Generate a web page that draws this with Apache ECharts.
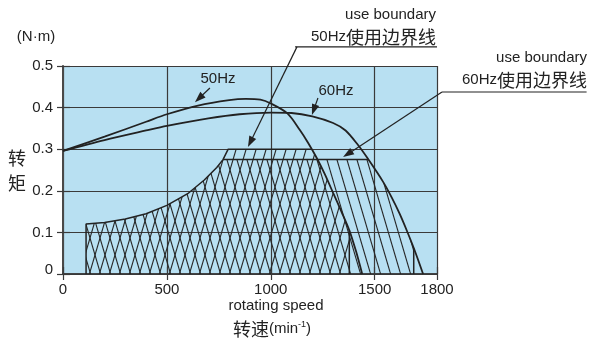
<!DOCTYPE html>
<html><head><meta charset="utf-8">
<script src="https://cdn.jsdelivr.net/npm/echarts@6/dist/echarts.min.js"></script>
<style>html,body{margin:0;padding:0;background:#fff}#c{width:589px;height:342px}</style>
</head><body><div id="c"></div>
<script>
// ---- data ----
const xMin = 0, xMax = 1800, xStep = 500;
const yMin = 0, yMax = 0.5, yStep = 0.1;

// 50Hz torque curve
const curve50X = [0, 200, 400, 500, 650, 800, 880, 950, 1000, 1080, 1140, 1180, 1220, 1260, 1300, 1340, 1378, 1410, 1440];
const curve50Y = [0.296, 0.33, 0.366, 0.384, 0.405, 0.418, 0.421, 0.419, 0.41, 0.386, 0.346, 0.315, 0.28, 0.24, 0.195, 0.15, 0.105, 0.055, 0];
// 60Hz torque curve
const curve60X = [0, 200, 400, 500, 700, 850, 1000, 1100, 1200, 1300, 1360, 1420, 1466, 1540, 1583, 1620, 1655, 1690, 1733];
const curve60Y = [0.296, 0.322, 0.345, 0.356, 0.374, 0.384, 0.388, 0.387, 0.379, 0.363, 0.345, 0.31, 0.278, 0.222, 0.183, 0.145, 0.104, 0.06, 0];

// 50Hz use boundary (hatched region outline)
const zone50X = [111, 111, 200, 300, 400, 500, 600, 680, 740, 770, 795, 1197, 1220, 1260, 1300, 1340, 1378, 1378];
const zone50Y = [0, 0.12, 0.124, 0.132, 0.145, 0.165, 0.193, 0.226, 0.256, 0.275, 0.3, 0.3, 0.28, 0.24, 0.195, 0.15, 0.105, 0];
// 60Hz use boundary
const zone60X = [111, 111, 200, 300, 400, 500, 600, 680, 740, 770, 1470, 1540, 1583, 1620, 1655, 1688, 1688];
const zone60Y = [0, 0.12, 0.124, 0.132, 0.145, 0.165, 0.193, 0.226, 0.256, 0.275, 0.275, 0.222, 0.183, 0.145, 0.104, 0.062, 0];

// annotation anchors in data units: [startX, startY, tipX, tipY]
const arrow50 = [707, 0.447, 635, 0.413];
const arrow60 = [1227, 0.423, 1198, 0.382];
const leader50 = [1126, 0.546, 890, 0.305];
const leader60 = [1824, 0.4375, 1348, 0.281];
const underline50 = [1117, 1800, 0.546];
const underline60 = [1824, 2520, 0.4375];

const FONT = "'Liberation Sans', Arial, 'Noto Sans CJK SC', sans-serif";
const CJK = "'Noto Sans CJK SC', sans-serif";
const INK = '#222';
const GRIDC = '#3a3a3a';

function pairs(xs, ys) { return xs.map((x, i) => [x, ys[i]]); }

function hatch(dir) {
  const w = 10, h = 34;
  const c = document.createElement('canvas');
  c.width = w; c.height = h;
  const g = c.getContext('2d');
  g.strokeStyle = '#262626';
  g.lineWidth = 1.1;
  for (let k = -1; k <= 1; k++) {
    g.beginPath();
    if (dir > 0) { g.moveTo(k * w, h); g.lineTo(k * w + w, 0); }
    else { g.moveTo(k * w, 0); g.lineTo(k * w + w, h); }
    g.stroke();
  }
  return c;
}

const chart = echarts.init(document.getElementById('c'), null, {renderer: 'canvas'});

const baseX = {min: xMin, max: xMax, interval: xStep, type: 'value'};
const baseY = {min: yMin, max: yMax, interval: yStep, type: 'value'};

chart.setOption({
  animation: false,
  backgroundColor: '#fff',
  grid: {left: 63, top: 66, width: 374, height: 208, show: true, backgroundColor: '#b8e0f2', borderWidth: 0},
  xAxis: [
    Object.assign({}, baseX, {
      position: 'bottom',
      axisLine: {lineStyle: {color: GRIDC, width: 1.5}},
      axisTick: {show: true, inside: false, length: 6, lineStyle: {color: GRIDC, width: 1.2}},
      axisLabel: {color: INK, fontSize: 15, fontFamily: FONT, margin: 8, formatter: v => String(v)},
      splitLine: {show: true, lineStyle: {color: GRIDC, width: 1.2}}
    }),
    Object.assign({}, baseX, {
      position: 'top',
      axisLine: {lineStyle: {color: GRIDC, width: 1.5}},
      axisTick: {show: true, inside: false, length: 7, lineStyle: {color: GRIDC, width: 1.2}},
      axisLabel: {show: false},
      splitLine: {show: false}
    })
  ],
  yAxis: [
    Object.assign({}, baseY, {
      position: 'left',
      axisLine: {show: true, lineStyle: {color: '#777', width: 2}},
      axisTick: {show: true, inside: false, length: 6, lineStyle: {color: GRIDC, width: 1.2}},
      axisLabel: {color: INK, fontSize: 15, fontFamily: FONT, margin: 10,
        formatter: v => v === 0 ? '{z|0}' : v.toFixed(1),
        rich: {z: {fontSize: 15, fontFamily: FONT, color: INK, padding: [0, 0, 9, 0]}}},
      splitLine: {show: true, lineStyle: {color: GRIDC, width: 1.2}}
    }),
    Object.assign({}, baseY, {
      position: 'right',
      axisLine: {show: true, lineStyle: {color: GRIDC, width: 1.5}},
      axisTick: {show: true, inside: false, length: 7, lineStyle: {color: GRIDC, width: 1.2}},
      axisLabel: {show: false},
      splitLine: {show: false}
    })
  ],
  series: [
    {type: 'line', name: 'zone60fill', data: pairs(zone60X, zone60Y), symbol: 'none', silent: true,
      lineStyle: {width: 0, opacity: 0}, areaStyle: {color: {image: hatch(-1), repeat: 'repeat'}, opacity: 1}, z: 2},
    {type: 'line', name: 'zone50fill', data: pairs(zone50X, zone50Y), symbol: 'none', silent: true,
      lineStyle: {width: 0, opacity: 0}, areaStyle: {color: {image: hatch(1), repeat: 'repeat'}, opacity: 1}, z: 2},
    {type: 'line', name: 'zone50', data: pairs(zone50X.slice(0, 12), zone50Y.slice(0, 12)), symbol: 'none', silent: true,
      lineStyle: {color: INK, width: 1.5}, z: 3},
    {type: 'line', name: 'zone60top', data: pairs(zone60X.slice(9, 11), zone60Y.slice(9, 11)), symbol: 'none', silent: true,
      lineStyle: {color: INK, width: 1.5}, z: 3},
    {type: 'line', name: 'zone50cut', data: pairs(zone50X.slice(16), zone50Y.slice(16)), symbol: 'none', silent: true,
      lineStyle: {color: INK, width: 1.5}, z: 3},
    {type: 'line', name: 'zone60cut', data: pairs(zone60X.slice(15), zone60Y.slice(15)), symbol: 'none', silent: true,
      lineStyle: {color: INK, width: 1.5}, z: 3},
    {type: 'line', name: '50Hz', data: pairs(curve50X, curve50Y), symbol: 'none', smooth: 0.3, silent: true,
      lineStyle: {color: INK, width: 1.8}, z: 4},
    {type: 'line', name: '60Hz', data: pairs(curve60X, curve60Y), symbol: 'none', smooth: 0.3, silent: true,
      lineStyle: {color: INK, width: 1.8}, z: 4}
  ]
});

function px(x, y) { return chart.convertToPixel({gridIndex: 0}, [x, y]); }
function arrowEls(a) {
  const s = px(a[0], a[1]), t = px(a[2], a[3]);
  const dx = t[0] - s[0], dy = t[1] - s[1], L = Math.hypot(dx, dy);
  const ux = dx / L, uy = dy / L, len = 11, hw = 3.8;
  const bx = t[0] - ux * len, by = t[1] - uy * len;
  return [
    {type: 'line', shape: {x1: s[0], y1: s[1], x2: bx + ux * 2, y2: by + uy * 2}, style: {stroke: INK, lineWidth: 1.2}, z: 10},
    {type: 'polygon', shape: {points: [[t[0], t[1]], [bx - uy * hw, by + ux * hw], [bx + uy * hw, by - ux * hw]]},
      style: {fill: INK}, z: 10}
  ];
}
function hline(u) {
  const a = px(u[0], u[2]), b = px(u[1], u[2]);
  return {type: 'line', shape: {x1: a[0], y1: a[1], x2: b[0], y2: b[1]}, style: {stroke: INK, lineWidth: 1.2}, z: 10};
}
function txt(x, y, text, align, rich) {
  return {type: 'text', x: x, y: y, z: 11, style: {text: text, x: 0, y: 0, align: align || 'center', verticalAlign: 'middle',
    fill: INK, font: '15px ' + FONT, rich: rich}};
}
const rich = {
  a: {fontSize: 15, fontFamily: FONT, fill: INK, color: INK},
  c: {fontSize: 18, fontFamily: CJK, fill: INK, color: INK},
  s: {fontSize: 9, fontFamily: FONT, fill: INK, color: INK, verticalAlign: 'top'}
};

const graphics = [].concat(
  arrowEls(arrow50), arrowEls(arrow60), arrowEls(leader50), arrowEls(leader60),
  [hline(underline50), hline(underline60),
   txt(218, 79, '50Hz'),
   txt(336, 91, '60Hz'),
   txt(436, 15, 'use boundary', 'right'),
   txt(436, 37, '{a|50Hz}{c|使用边界线}', 'right', rich),
   txt(587, 58, 'use boundary', 'right'),
   txt(587, 80, '{a|60Hz}{c|使用边界线}', 'right', rich),
   txt(36, 37, '(N·m)'),
   txt(17, 158, '{c|转}', 'center', rich),
   txt(17, 183, '{c|矩}', 'center', rich),
   txt(276, 306, 'rotating speed'),
   txt(272, 329, '{c|转速}{a|(min}{s|-1}{a|)}', 'center', rich)]
);
chart.setOption({graphic: graphics.map(g => Object.assign({silent: true}, g))});
</script></body></html>
